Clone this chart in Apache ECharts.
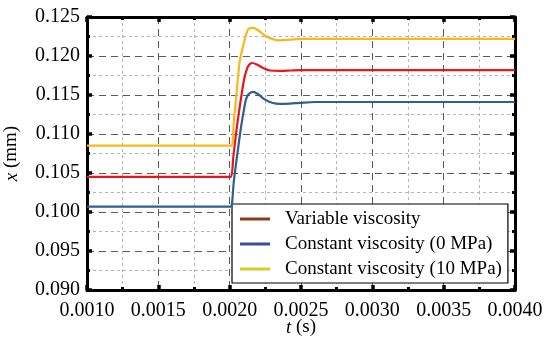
<!DOCTYPE html>
<html>
<head>
<meta charset="utf-8">
<script src="https://cdn.jsdelivr.net/npm/echarts@6/dist/echarts.min.js"></script>
<style>
html,body{margin:0;padding:0;background:#fff;}
#chart{width:550px;height:342px;}
</style>
</head>
<body>
<div id="chart"></div>
<script>
// ---- data (t in s, x in mm) ----
const seriesNames = ['Variable viscosity', 'Constant viscosity (0 MPa)', 'Constant viscosity (10 MPa)'];
const variableT = [0.0010, 0.0020, 0.00201, 0.002027, 0.002048, 0.002065, 0.002083, 0.0021, 0.002118, 0.002135, 0.002157, 0.002192, 0.002234, 0.002283, 0.002353, 0.002423, 0.002493, 0.0027, 0.0030, 0.0035, 0.0040];
const variableX = [0.1045, 0.1045, 0.1045, 0.1073, 0.1105, 0.1128, 0.1150, 0.1169, 0.1182, 0.11885, 0.1191, 0.1189, 0.11846, 0.11814, 0.1181, 0.11814, 0.1182, 0.1182, 0.1182, 0.1182, 0.1182];
const const0T = [0.0010, 0.0020, 0.00201, 0.00203, 0.002058, 0.002079, 0.0021, 0.002114, 0.002132, 0.002164, 0.002199, 0.002248, 0.002297, 0.002353, 0.002423, 0.002493, 0.0026, 0.0030, 0.0035, 0.0040];
const const0X = [0.1007, 0.1007, 0.1007, 0.1041, 0.1080, 0.1108, 0.1131, 0.1144, 0.1151, 0.1154, 0.1151, 0.1144, 0.1140, 0.11385, 0.1139, 0.1140, 0.1141, 0.1141, 0.1141, 0.1141];
const const10T = [0.0010, 0.0020, 0.002014, 0.00203, 0.002044, 0.00206, 0.002072, 0.002096, 0.002114, 0.002135, 0.002164, 0.002199, 0.002248, 0.002297, 0.002353, 0.002423, 0.0025, 0.0030, 0.0035, 0.0040];
const const10X = [0.1085, 0.1085, 0.1085, 0.1118, 0.1144, 0.1176, 0.1195, 0.1214, 0.1227, 0.1235, 0.1236, 0.1233, 0.1226, 0.1222, 0.1220, 0.1221, 0.1222, 0.1222, 0.1222, 0.1222];
const xTickMin = 0.0010, xTickMax = 0.0040, xTickStep = 0.0005;
const yTickMin = 0.090, yTickMax = 0.125, yTickStep = 0.005;

function zip(a, b) { return a.map((v, i) => [v, b[i]]); }

const FONT = '"Liberation Serif", "Times New Roman", serif';
const lineColors = ['#e5161c', '#2f5f8e', '#fbb71a'];
const legendColors = ['#8a3b14', '#3a4c9a', '#d8cc24'];

const majorSplit = { show: true, lineStyle: { color: '#5a5a5a', width: 1, type: [7, 5] } };
const minorSplit = { show: true, lineStyle: { color: '#b4b4b4', width: 1, type: [3, 3] } };
const axisLineS = { show: true, onZero: false, lineStyle: { color: '#000', width: 3 } };
const tickS = { show: true, inside: true, length: 5, lineStyle: { color: '#000', width: 3.5 } };
const minorTickS = { show: true, splitNumber: 2, length: 3, lineStyle: { color: '#000', width: 3 } };

const chart = echarts.init(document.getElementById('chart'), null, { renderer: 'canvas' });
chart.setOption({
  animation: false,
  backgroundColor: '#fff',
  textStyle: { fontFamily: FONT },
  grid: { left: 87, right: 35, top: 17, bottom: 52, containLabel: false, outerBoundsMode: 'none' },
  xAxis: [{
    type: 'value', min: xTickMin, max: xTickMax, interval: xTickStep,
    position: 'bottom',
    name: '{i|t} (s)', nameLocation: 'middle', nameGap: 28,
    nameTextStyle: { fontFamily: FONT, fontSize: 19, color: '#000',
      rich: { i: { fontFamily: FONT, fontStyle: 'italic', fontSize: 19, color: '#000' } } },
    nameMoveOverlap: false,
    axisLine: axisLineS, axisTick: tickS, minorTick: minorTickS,
    splitLine: majorSplit, minorSplitLine: minorSplit,
    axisLabel: { fontFamily: FONT, fontSize: 20, color: '#000', margin: 11,
      formatter: v => v.toFixed(4) }
  }, {
    type: 'value', min: xTickMin, max: xTickMax, interval: xTickStep,
    position: 'top',
    axisLine: axisLineS, axisTick: tickS, minorTick: minorTickS,
    splitLine: { show: false }, axisLabel: { show: false }
  }],
  yAxis: [{
    type: 'value', min: yTickMin, max: yTickMax, interval: yTickStep,
    position: 'left',
    name: '{i|x} (mm)', nameLocation: 'middle', nameGap: 66,
    nameTextStyle: { fontFamily: FONT, fontSize: 19, color: '#000',
      rich: { i: { fontFamily: FONT, fontStyle: 'italic', fontSize: 19, color: '#000' } } },
    nameMoveOverlap: false,
    axisLine: axisLineS, axisTick: tickS, minorTick: minorTickS,
    splitLine: majorSplit, minorSplitLine: minorSplit,
    axisLabel: { fontFamily: FONT, fontSize: 20, color: '#000', margin: 7,
      formatter: v => v.toFixed(3) }
  }, {
    type: 'value', min: yTickMin, max: yTickMax, interval: yTickStep,
    position: 'right',
    axisLine: axisLineS, axisTick: tickS, minorTick: minorTickS,
    splitLine: { show: false }, axisLabel: { show: false }
  }],
  legend: {
    orient: 'vertical',
    left: 232, top: 204,
    width: 270,
    backgroundColor: '#fff',
    borderColor: '#000', borderWidth: 1.2,
    padding: [5, 6, 4, 8],
    itemGap: 5,
    itemWidth: 30, itemHeight: 3,
    icon: 'rect',
    textStyle: { fontFamily: FONT, fontSize: 19, color: '#000', lineHeight: 20, padding: [0, 0, 0, 10] },
    data: seriesNames.map((n, i) => ({ name: n, itemStyle: { color: legendColors[i] } }))
  },
  series: [
    { name: seriesNames[0], type: 'line', data: zip(variableT, variableX) },
    { name: seriesNames[1], type: 'line', data: zip(const0T, const0X) },
    { name: seriesNames[2], type: 'line', data: zip(const10T, const10X) }
  ].map((s, i) => Object.assign(s, {
    xAxisIndex: 0, yAxisIndex: 0,
    showSymbol: false, smooth: 0.35,
    color: lineColors[i],
    lineStyle: { color: lineColors[i], width: 2.2 },
    z: 3 + i
  }))
});
</script>
</body>
</html>
